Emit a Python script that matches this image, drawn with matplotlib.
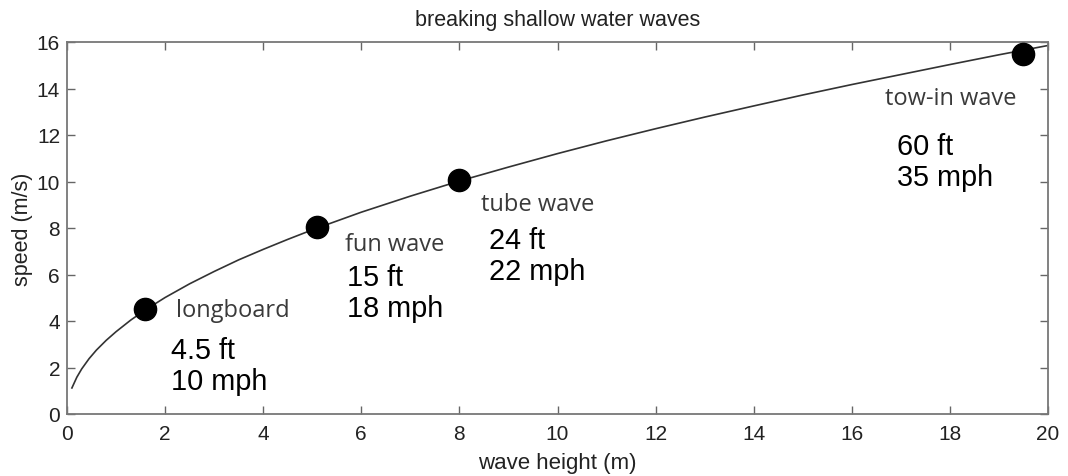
import matplotlib
matplotlib.use("Agg")
import matplotlib.pyplot as plt

# curve
curve_h = [0.1, 0.2, 0.3, 0.45, 0.6, 0.8, 1.0, 1.3, 1.6, 2.0, 2.5, 3.0, 3.5, 4.0, 4.5, 5.0, 6.0, 7.0, 8.0, 9.0,
           10.0, 11.0, 12.0, 13.0, 14.0, 15.0, 16.0, 17.0, 18.0, 19.0, 20.0]
curve_v = [1.12, 1.58, 1.94, 2.38, 2.75, 3.17, 3.54, 4.04, 4.48, 5.01, 5.6, 6.13, 6.63, 7.08, 7.51, 7.92, 8.68, 9.37,
           10.02, 10.62, 11.2, 11.75, 12.27, 12.77, 13.25, 13.72, 14.17, 14.6, 15.03, 15.45, 15.85]

# highlighted waves
pt_h = [1.6, 5.1, 8.0, 19.5]
pt_v = [4.5, 8.05, 10.05, 15.5]
names = ["longboard", "fun wave", "tube wave", "tow-in wave"]
feet = ["4.5 ft", "15 ft", "24 ft", "60 ft"]
mph = ["10 mph", "18 mph", "22 mph", "35 mph"]

# label anchor positions (data coords)
name_xy = [(2.22, 4.47), (5.67, 7.31), (8.44, 9.03), (16.68, 13.59)]
num_xy = [(2.12, 2.75), (5.7, 5.89), (8.6, 7.48), (16.92, 11.53)]
line_gap = 1.33

fig = plt.figure(figsize=(10.68, 4.77), dpi=100)
ax = fig.add_axes([67/1068, 62/477, 981/1068, 372/477])

ax.plot(curve_h, curve_v, color="#333333", lw=1.2)
ax.plot(pt_h, pt_v, "o", color="black", markersize=16, zorder=3)

for (nx, ny), n in zip(name_xy, names):
    ax.text(nx, ny, n, family="Open Sans", fontsize=17, color="#3a3a3a",
            ha="left", va="center")
for (fx, fy), f, m in zip(num_xy, feet, mph):
    ax.text(fx, fy, f, family="Liberation Sans", fontsize=20.8, color="black",
            ha="left", va="center")
    ax.text(fx, fy - line_gap, m, family="Liberation Sans", fontsize=20.8, color="black",
            ha="left", va="center")

ax.set_xlim(0, 20)
ax.set_ylim(0, 16)
ax.set_xticks(range(0, 21, 2))
ax.set_yticks(range(0, 17, 2))
ax.tick_params(direction="in", top=True, right=True, length=6, width=1.0,
               color="#666666", labelsize=15, labelcolor="#222222")
ax.tick_params(axis="x", pad=7)
ax.tick_params(axis="y", pad=5)
for lab in ax.get_xticklabels() + ax.get_yticklabels():
    lab.set_family("Liberation Sans")
for s in ax.spines.values():
    s.set_color("#777777")
    s.set_linewidth(1.3)

ax.set_title("breaking shallow water waves", family="Liberation Sans", fontsize=15.5,
             color="#222222", pad=12.5)
ax.set_xlabel("wave height (m)", family="Liberation Sans", fontsize=16, color="#222222", labelpad=7)
ax.set_ylabel("speed (m/s)", family="Liberation Sans", fontsize=15.5, color="#222222", labelpad=3)

fig.savefig("out.png", dpi=100)
